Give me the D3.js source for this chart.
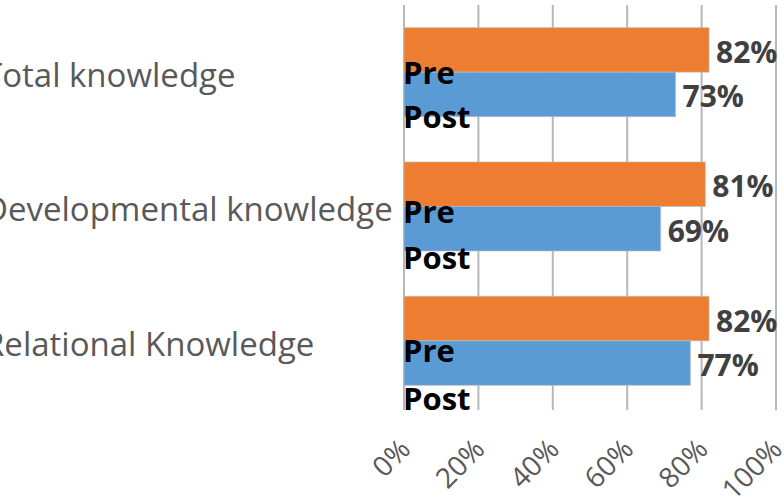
<!DOCTYPE html>
<html>
<head>
<meta charset="utf-8">
<script src="https://cdn.jsdelivr.net/npm/d3@7"></script>
<style>
  html, body { margin: 0; padding: 0; background: #ffffff; overflow: hidden; }
  svg { display: block; }
</style>
</head>
<body>
<svg id="chart" width="784" height="504"></svg>
<script>
// ---- data ----
const categories = ["Total knowledge", "Developmental knowledge", "Relational Knowledge"];
const seriesNames = ["Pre", "Post"];
const preValues = [0.73, 0.69, 0.77];
const postValues = [0.82, 0.81, 0.82];
const tickValues = [0, 0.2, 0.4, 0.6, 0.8, 1.0];
const tickLabels = ["0%", "20%", "40%", "60%", "80%", "100%"];
const valueLabelsPre = ["73%", "69%", "77%"];
const valueLabelsPost = ["82%", "81%", "82%"];

// ---- layout ----
const W = 784, H = 504;
const plotLeft = 404, plotRight = 776, plotTop = 5, plotBottom = 408;
const colors = { Pre: "#5B9BD5", Post: "#ED7D31" };

const svg = d3.select("#chart");

const x = d3.scaleLinear().domain([0, 1]).range([plotLeft, plotRight]);
const y = d3.scaleBand().domain(categories).range([plotTop, plotBottom]).padding(0);
const groupRatio = 0.663;
const groupH = y.bandwidth() * groupRatio;
const groupOff = (y.bandwidth() - groupH) / 2;
// orange (Post) on top, blue (Pre) below
const sub = d3.scaleBand().domain(["Post", "Pre"]).range([0, groupH]).padding(0);

// gridlines
svg.append("g")
  .selectAll("line")
  .data(tickValues)
  .join("line")
  .attr("x1", d => x(d)).attr("x2", d => x(d))
  .attr("y1", plotTop).attr("y2", plotBottom + 2)
  .attr("stroke", "#b8b8b8")
  .attr("stroke-width", 2);

// bars
const rows = categories.map((c, i) => ({ cat: c, i, Pre: preValues[i], Post: postValues[i],
  lPre: valueLabelsPre[i], lPost: valueLabelsPost[i] }));

const barG = svg.append("g");
rows.forEach(r => {
  ["Post", "Pre"].forEach(s => {
    const by = y(r.cat) + groupOff + sub(s);
    barG.append("rect")
      .attr("x", x(0))
      .attr("y", by)
      .attr("width", x(r[s]) - x(0))
      .attr("height", sub.bandwidth())
      .attr("fill", colors[s])
      .attr("stroke", "rgba(190,190,190,0.6)")
      .attr("stroke-width", 1);
    svg.append("text")
      .attr("x", x(r[s]) + 7)
      .attr("y", by + sub.bandwidth() / 2 + 13)
      .attr("font-family", "'Open Sans', sans-serif")
      .attr("font-weight", "bold")
      .attr("font-size", 30)
      .attr("fill", "#404040")
      .text(s === "Pre" ? r.lPre : r.lPost);
  });
});

// category labels (clipped at left edge, as in the reference)
svg.append("g")
  .selectAll("text")
  .data(categories)
  .join("text")
  .attr("x", -16)
  .attr("y", d => y(d) + y.bandwidth() / 2 + 14.8)
  .attr("font-family", "'Open Sans', sans-serif")
  .attr("font-size", 33)
  .attr("fill", "#595959")
  .text(d => d);

// Pre / Post annotation labels
rows.forEach(r => {
  const b = y(r.cat);
  svg.append("text")
    .attr("x", plotLeft - 1)
    .attr("y", b + 78.6 + 5 * r.i)
    .attr("font-family", "'Open Sans', sans-serif")
    .attr("font-weight", "bold")
    .attr("font-size", 31)
    .attr("fill", "#000000")
    .text(seriesNames[0]);
  svg.append("text")
    .attr("x", plotLeft - 1)
    .attr("y", b + 123 + 6.5 * r.i)
    .attr("font-family", "'Open Sans', sans-serif")
    .attr("font-weight", "bold")
    .attr("font-size", 31)
    .attr("fill", "#000000")
    .text(seriesNames[1]);
});

// x tick labels (rotated)
svg.append("g")
  .selectAll("text")
  .data(tickValues)
  .join("text")
  .attr("transform", d => `translate(${x(d) + 8},451) rotate(-45)`)
  .attr("text-anchor", "end")
  .attr("font-family", "'Open Sans', sans-serif")
  .attr("font-size", 28)
  .attr("fill", "#595959")
  .text((d, i) => tickLabels[i]);
</script>
</body>
</html>
